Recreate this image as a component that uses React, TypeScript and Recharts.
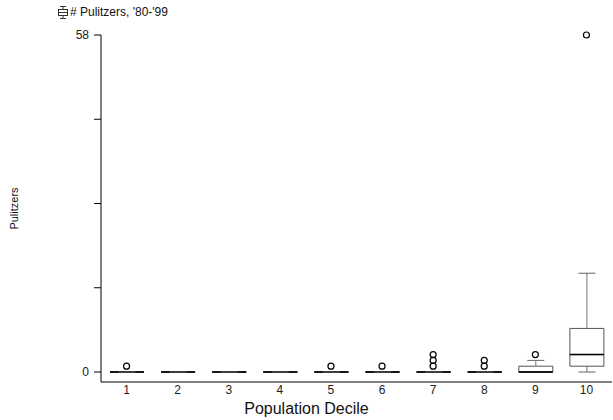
import { ComposedChart, Bar, Line, XAxis, YAxis } from 'recharts';

const deciles = ['1', '2', '3', '4', '5', '6', '7', '8', '9', '10'];
const whiskerLow = [0, 0, 0, 0, 0, 0, 0, 0, 0, 0];
const quartile1 = [0, 0, 0, 0, 0, 0, 0, 0, 0, 1];
const medians = [0, 0, 0, 0, 0, 0, 0, 0, 0, 3];
const quartile3 = [0, 0, 0, 0, 0, 0, 0, 0, 1, 7.5];
const whiskerHigh = [0, 0, 0, 0, 0, 0, 0, 0, 2, 17];
const outliers: number[][] = [[1], [], [], [], [1], [1], [1, 2, 3], [1, 2], [3], [58]];
const yTicks = [0, 14.5, 29, 43.5, 58];

const FONT = '"Liberation Sans", Arial, sans-serif';
const BOX = '#555';

// stacked segments: transparent base, lower whisker, lower box, upper box, upper whisker
const data = deciles.map((d, i) => ({
  decile: d,
  base: whiskerLow[i],
  lowW: quartile1[i] - whiskerLow[i],
  lowBox: medians[i] - quartile1[i],
  highBox: quartile3[i] - medians[i],
  highW: whiskerHigh[i] - quartile3[i],
  out1: outliers[i][0] ?? null,
  out2: outliers[i][1] ?? null,
  out3: outliers[i][2] ?? null,
}));

const Empty = () => <g />;

const LowWhisker = (p: any) => {
  const cx = p.x + p.width / 2;
  const bottom = p.y + p.height;
  return (
    <g>
      <line x1={cx} x2={cx} y1={p.y} y2={bottom} stroke="#777" />
      <line x1={cx - p.width / 4} x2={cx + p.width / 4} y1={bottom} y2={bottom} stroke="#666" />
    </g>
  );
};

const HighWhisker = (p: any) => {
  const cx = p.x + p.width / 2;
  return (
    <g>
      <line x1={cx} x2={cx} y1={p.y} y2={p.y + p.height} stroke="#777" />
      <line x1={cx - p.width / 4} x2={cx + p.width / 4} y1={p.y} y2={p.y} stroke="#666" />
    </g>
  );
};

const LowBox = (p: any) => (
  <path
    d={`M${p.x},${p.y} h${p.width} v${p.height} h${-p.width} Z`}
    fill="none"
    stroke={BOX}
  />
);

// upper box also draws the median (its bottom edge) in black
const HighBox = (p: any) => {
  const bottom = p.y + p.height;
  return (
    <g>
      <path d={`M${p.x},${p.y} h${p.width} v${p.height} h${-p.width} Z`} fill="none" stroke={BOX} />
      <line x1={p.x} x2={p.x + p.width} y1={bottom} y2={bottom} stroke="#000" strokeWidth={1.5} />
    </g>
  );
};

const renderOutlier = (p: any) => {
  if (p.value == null || p.cy == null) return <g key={p.key ?? p.index} />;
  return (
    <circle key={p.key ?? p.index} cx={p.cx} cy={p.cy} r={3} fill="none" stroke="#000" strokeWidth={1.2} />
  );
};

export default function App() {
  return (
    <div style={{ position: 'absolute', left: 0, top: 0, width: 613, height: 420, background: '#fff', fontFamily: FONT }}>
      <div style={{ position: 'absolute', left: 57, top: 5, display: 'flex', alignItems: 'center', fontSize: 12, color: '#111' }}>
        <svg width={12} height={13} style={{ marginRight: 1 }}>
          <line x1={6} x2={6} y1={0.5} y2={12.5} stroke="#333" />
          <line x1={3} x2={9} y1={0.5} y2={0.5} stroke="#333" />
          <line x1={3} x2={9} y1={12.5} y2={12.5} stroke="#333" />
          <rect x={1.5} y={3.5} width={9} height={6} fill="#fff" stroke="#333" />
          <line x1={1.5} x2={10.5} y1={6.5} y2={6.5} stroke="#333" />
        </svg>
        <span># Pulitzers, '80-'99</span>
      </div>
      <ComposedChart
        width={613}
        height={420}
        data={data}
        margin={{ top: 35, right: 1, bottom: 0, left: 0 }}
        barCategoryGap={8}
        style={{ fontFamily: FONT }}
      >
        <XAxis
          dataKey="decile"
          tickLine={false}
          tickSize={0}
          tickMargin={3}
          axisLine={{ stroke: '#000' }}
          tick={{ fontSize: 12, fill: '#222' }}
          height={38}
          label={{ value: 'Population Decile', position: 'center', dx: -50, dy: 7, fontSize: 16, fill: '#111' }}
        />
        <YAxis
          type="number"
          domain={[0, 58]}
          ticks={yTicks}
          interval={0}
          width={101}
          padding={{ top: 0, bottom: 10 }}
          tickSize={7}
          tickMargin={5}
          tickFormatter={(v: number) => (v === 0 || v === 58 ? String(v) : '')}
          axisLine={{ stroke: '#000' }}
          tickLine={{ stroke: '#000' }}
          tick={{ fontSize: 12, fill: '#222' }}
          label={{ value: 'Pulitzers', angle: -90, position: 'center', dx: -36, fontSize: 11, fill: '#111' }}
        />
        <Bar dataKey="base" stackId="box" barSize={34} shape={Empty} isAnimationActive={false} />
        <Bar dataKey="lowW" stackId="box" barSize={34} shape={LowWhisker} isAnimationActive={false} />
        <Bar dataKey="lowBox" stackId="box" barSize={34} shape={LowBox} isAnimationActive={false} />
        <Bar dataKey="highBox" stackId="box" barSize={34} shape={HighBox} isAnimationActive={false} />
        <Bar dataKey="highW" stackId="box" barSize={34} shape={HighWhisker} isAnimationActive={false} />
        <Line dataKey="out1" stroke="none" dot={renderOutlier} activeDot={false} isAnimationActive={false} />
        <Line dataKey="out2" stroke="none" dot={renderOutlier} activeDot={false} isAnimationActive={false} />
        <Line dataKey="out3" stroke="none" dot={renderOutlier} activeDot={false} isAnimationActive={false} />
      </ComposedChart>
    </div>
  );
}
